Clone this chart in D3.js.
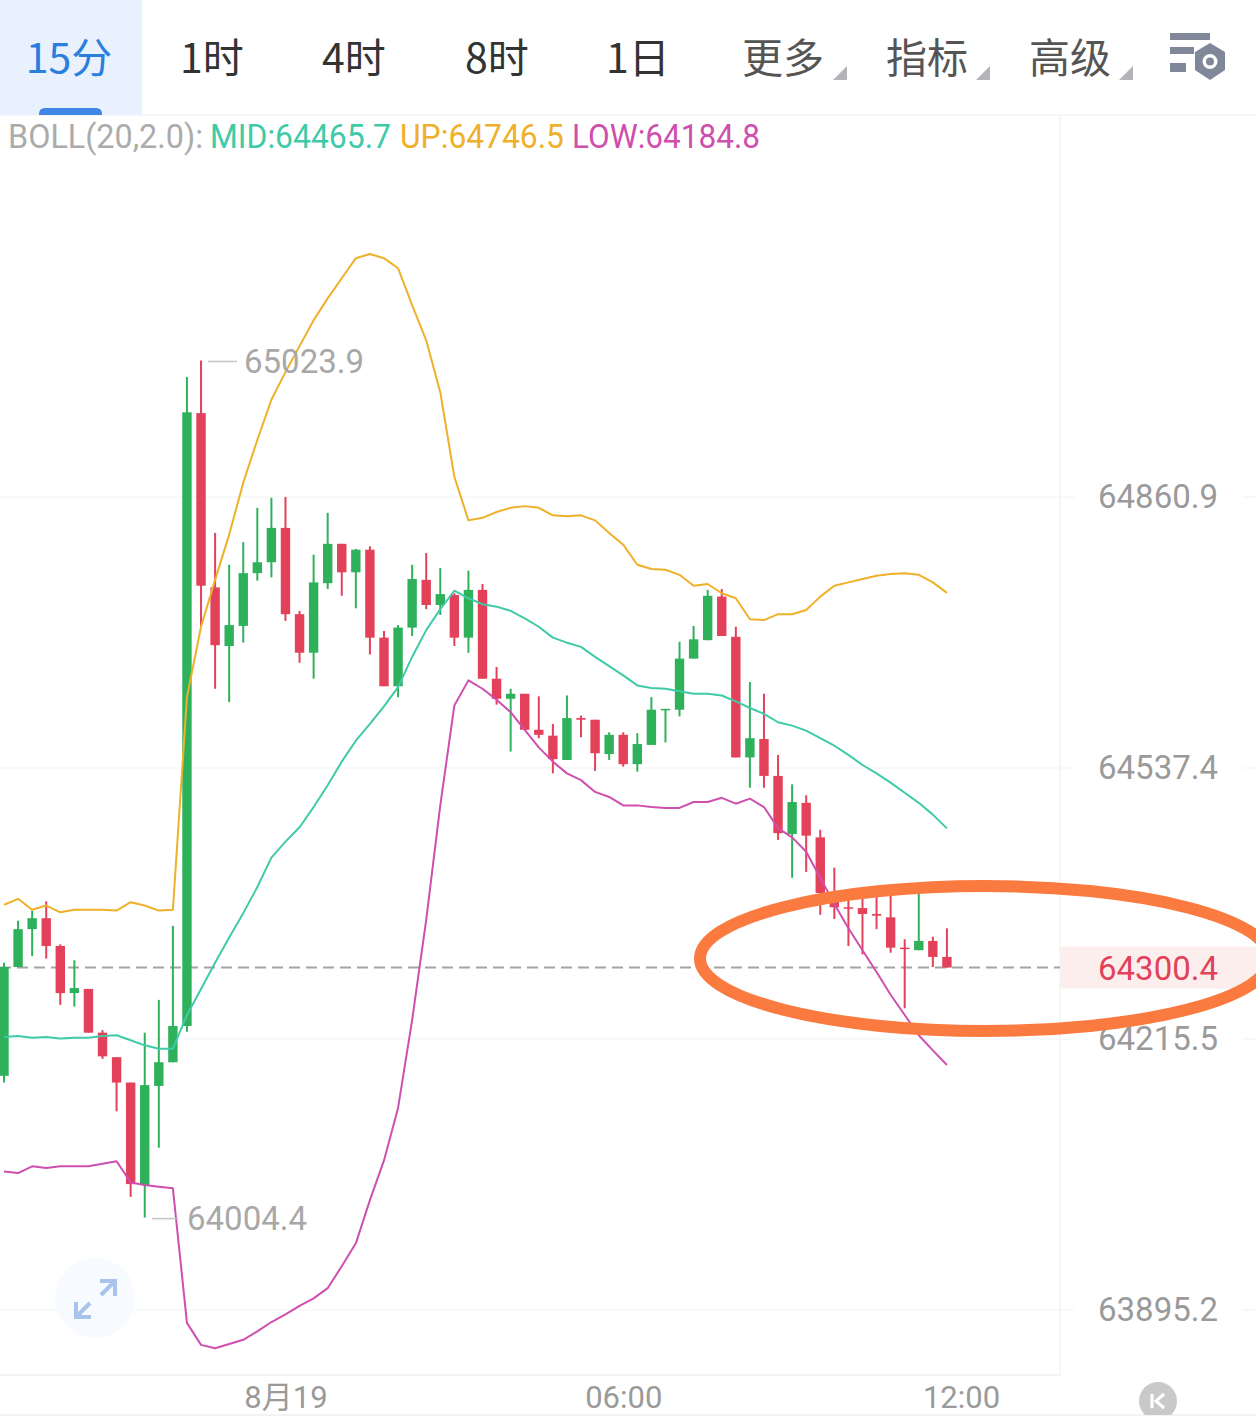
<!DOCTYPE html>
<html><head><meta charset="utf-8">
<script src="https://cdn.jsdelivr.net/npm/d3@7"></script>
<style>html,body{margin:0;padding:0;background:#fff}svg{display:block}text{font-family:Roboto,"Noto Sans CJK SC",sans-serif}</style>
</head><body><div id="chart"></div>
<script>
const open=[64172,64301,64346,64359,64326,64270,64275,64223,64194,64164,64043,64160,64188,64231,64961,64753,64683,64707,64770,64783,64824,64721,64675,64758,64805,64771,64798,64693,64635,64705,64762,64732,64744,64693,64750,64644,64620,64626,64583,64576,64547,64597,64595,64554,64577,64542,64565,64607,64607,64668,64690,64742,64694,64550,64572,64528,64459,64496,64455,64389,64372,64371,64364,64360,64324,64321,64332,64313];
const close=[64301,64346,64359,64326,64270,64276,64223,64195,64164,64044,64161,64188,64231,64962,64755,64684,64708,64770,64783,64824,64721,64675,64759,64805,64771,64798,64693,64635,64705,64763,64732,64745,64693,64750,64644,64620,64626,64583,64577,64548,64597,64595,64555,64577,64542,64566,64607,64608,64668,64691,64743,64695,64550,64573,64528,64460,64497,64457,64389,64372,64371,64364,64362,64324,64323,64332,64313,64300.4];
const high=[64306,64356,64368,64379,64328,64309,64275,64226,64194,64164,64223,64262,64350,65004,65023.9,64818,64780,64807,64848,64860,64861,64725,64792,64842,64805,64799,64802,64701,64708,64780,64794,64776,64746,64773,64757,64658,64632,64626,64623,64590,64624,64600,64595,64580,64580,64579,64622,64608,64688,64707,64750,64751,64706,64640,64626,64553,64518,64505,64464,64419,64393,64384,64384,64386,64334,64389,64337,64347];
const low=[64164,64301,64314,64311,64256,64254,64223,64192,64130,64029,64004.4,64087,64188,64224,64707,64632,64616,64687,64761,64765,64713,64663,64644,64751,64743,64728,64673,64635,64622,64695,64727,64720,64683,64675,64644,64613,64557,64583,64573,64531,64547,64574,64534,64547,64539,64533,64565,64568,64599,64668,64690,64695,64550,64514,64514,64452,64407,64414,64363,64358,64326,64316,64346,64318,64252,64321,64301,64300.4];
const bollMid=[64218,64219,64217,64218,64216,64217,64217,64219,64220,64214,64208,64204,64204,64244,64275,64306,64336,64365,64396,64431,64450,64467,64491,64517,64545,64570,64590,64611,64634,64670,64702,64727,64749,64740,64733,64730,64725,64716,64706,64693,64687,64682,64670,64659,64648,64636,64633,64632,64629,64626,64626,64624,64617,64609,64602,64592,64588,64582,64573,64564,64553,64541,64531,64520,64508,64496,64482,64465.7];
const bollUp=[64375,64382,64369,64374,64366,64369,64369,64369,64368,64378,64374,64368,64369,64622,64706,64762,64816,64878,64929,64977,65010,65041,65072,65098,65122,65146,65151,65146,65134,65090,65048,64986,64885,64833,64836,64843,64848,64850,64848,64839,64838,64839,64833,64818,64804,64780,64775,64774,64768,64755,64757,64746,64740,64715,64714,64721,64721,64726,64742,64755,64759,64763,64767,64769,64770,64768,64759,64746.5];
const bollLow=[64059,64057,64065,64063,64065,64065,64065,64068,64071,64046,64043,64041,64039,63880,63854,63850,63855,63860,63870,63881,63890,63900,63909,63921,63947,63974,64025,64072,64134,64238,64357,64493,64612,64642,64632,64619,64604,64583,64562,64545,64531,64523,64509,64503,64493,64493,64491,64490,64490,64497,64497,64502,64495,64501,64491,64466,64455,64438,64407,64376,64347,64321,64295,64268,64244,64220,64202,64184.8];
const priceTicks=[64860.9,64537.4,64215.5,63895.2];
const lastPrice=64300.4, maxPrice=65023.9, minPrice=64004.4;
const timeTickIdx=[20,44,68];
const timeTickLabels=["8月19","06:00","12:00"];
const tabLabels=["15分","1时","4时","8时","1日","更多","指标","高级"];
const legendLabels=["BOLL(20,2.0):","MID:64465.7","UP:64746.5","LOW:64184.8"];

const W=1256,H=1427;
const RED="#e3415a",GREEN="#2fb15c",CMID="#3fcaa8",CUP="#efb02a",CLOW="#cf4fae",GRID="#f2f3f5";
const svg=d3.select("#chart").append("svg").attr("width",W).attr("height",H).attr("viewBox",`0 0 ${W} ${H}`);
const x=d3.scaleLinear().domain([0,68]).range([4,961]);
const y=d3.scaleLinear().domain([63895.2,64215.5,64537.4,64860.9]).range([1310,1039,768,497]);
const plotR=1060,plotT=115,plotB=1375;
const defs=svg.append("defs");
defs.append("clipPath").attr("id","plot").append("rect").attr("x",0).attr("y",plotT).attr("width",plotR).attr("height",plotB-plotT);
defs.append("clipPath").attr("id","kclip").append("rect").attr("x",1130).attr("y",1375).attr("width",60).attr("height",40);

// frame + grid
svg.append("g").selectAll("line").data(priceTicks).join("line")
  .attr("x1",0).attr("x2",1075).attr("y1",d=>y(d)).attr("y2",d=>y(d)).attr("stroke",GRID).attr("stroke-width",1.2);
svg.append("g").selectAll("line").data(priceTicks).join("line")
  .attr("x1",1243).attr("x2",W).attr("y1",d=>y(d)).attr("y2",d=>y(d)).attr("stroke",GRID).attr("stroke-width",1.2);
svg.append("rect").attr("x",plotR).attr("y",y(lastPrice)-21).attr("width",W-plotR).attr("height",42).attr("fill","#fdeeee");
svg.append("line").attr("x1",plotR).attr("x2",plotR).attr("y1",plotT).attr("y2",plotB).attr("stroke",GRID).attr("stroke-width",1.5);
svg.append("line").attr("x1",0).attr("x2",W).attr("y1",plotT).attr("y2",plotT).attr("stroke",GRID).attr("stroke-width",1.5);
svg.append("line").attr("x1",0).attr("x2",plotR).attr("y1",plotB).attr("y2",plotB).attr("stroke",GRID).attr("stroke-width",2);
svg.append("line").attr("x1",0).attr("x2",W).attr("y1",1415).attr("y2",1415).attr("stroke",GRID).attr("stroke-width",2);

// expand button
const ex=svg.append("g");
ex.append("circle").attr("cx",95).attr("cy",1298).attr("r",40).attr("fill","#f7fafe");
ex.append("path").attr("d","M100 1281H115V1296M115 1281L101 1295M76 1302V1317H91M76 1317L90 1303").attr("fill","none").attr("stroke","#a8c3ec").attr("stroke-width",4);

// last-price dashed line
svg.append("line").attr("x1",0).attr("x2",plotR).attr("y1",y(lastPrice)).attr("y2",y(lastPrice))
  .attr("stroke","#a4a4a4").attr("stroke-width",2).attr("stroke-dasharray","11 6");

// candles
const idx=d3.range(open.length);
const plot=svg.append("g").attr("clip-path","url(#plot)");
const col=i=>close[i]>=open[i]?GREEN:RED;
plot.append("g").selectAll("line").data(idx).join("line")
  .attr("x1",x).attr("x2",x).attr("y1",i=>y(high[i])).attr("y2",i=>y(low[i]))
  .attr("stroke",col).attr("stroke-width",2);
plot.append("g").selectAll("rect").data(idx).join("rect")
  .attr("x",i=>x(i)-4.7).attr("width",9.4)
  .attr("y",i=>Math.min(y(open[i]),y(close[i])))
  .attr("height",i=>Math.max(1.5,Math.abs(y(open[i])-y(close[i]))))
  .attr("fill",col);

// bands
const line=d3.line().x((d,i)=>x(i)).y(d=>y(d));
[[bollUp,CUP],[bollMid,CMID],[bollLow,CLOW]].forEach(([s,c])=>{
  plot.append("path").attr("d",line(s)).attr("fill","none").attr("stroke",c).attr("stroke-width",2).attr("stroke-linejoin","round");
});

// hi/lo annotations
const note=(v,x1,x2,tx)=>{
  svg.append("line").attr("x1",x1).attr("x2",x2).attr("y1",y(v)+1).attr("y2",y(v)+1).attr("stroke","#c4c4c4").attr("stroke-width",1.5);
  svg.append("text").attr("x",tx).attr("y",y(v)+1).attr("dy","0.36em").attr("font-size",33).attr("fill","#a8a8a8").text(v.toFixed(1));
};
note(maxPrice,208,237,244);
note(minPrice,152,178,187);

// axes
const yAxis=d3.axisRight(y).tickValues(priceTicks).tickSize(0).tickPadding(0).tickFormat(d3.format(".1f"));
const gy=svg.append("g").attr("transform","translate(1158,0)").call(yAxis);
gy.select(".domain").remove();
gy.selectAll("text").attr("text-anchor","middle").attr("x",0).attr("font-size",33).attr("fill","#9a9a9a");
svg.append("text").attr("x",1158).attr("y",y(lastPrice)+1).attr("dy","0.36em").attr("text-anchor","middle").attr("font-size",33).attr("fill",RED).text(lastPrice.toFixed(1));

const xAxis=d3.axisBottom(x).tickValues(timeTickIdx).tickSize(0).tickPadding(0).tickFormat((d,i)=>timeTickLabels[i]);
const gx=svg.append("g").attr("transform","translate(0,1386)").call(xAxis);
gx.select(".domain").remove();
gx.selectAll("text").attr("font-size",31).attr("fill","#9a9a9a");

// K button
const kb=svg.append("g").attr("clip-path","url(#kclip)");
kb.append("circle").attr("cx",1158).attr("cy",1401).attr("r",19).attr("fill","#c9c9c9");
kb.append("path").attr("d","M1152 1394V1408M1164 1394L1156 1401L1164 1408").attr("fill","none").attr("stroke","#fff").attr("stroke-width",3);

// tabs
svg.append("rect").attr("x",0).attr("y",0).attr("width",142).attr("height",115).attr("fill","#e8f1fd");
svg.append("path").attr("d","M39 115V114Q39 108 45 108H96Q102 108 102 114V115Z").attr("fill","#3f86e6");
const tabX=[69,212,354,497,638,783,927,1070];
const tabCol=["#2a7fdc","#333","#333","#333","#333","#555","#555","#555"];
svg.append("g").selectAll("text").data(tabLabels).join("text")
  .attr("x",(d,i)=>tabX[i]).attr("y",58).attr("dy","0.36em").attr("text-anchor","middle")
  .attr("font-size",41).attr("fill",(d,i)=>tabCol[i])
  .style("font-family",'"Noto Sans CJK SC",sans-serif').text(d=>d);
[847,990,1133].forEach(r=>svg.append("path").attr("d",`M${r} 66V80H${r-14}Z`).attr("fill","#b2b4b8"));

// settings icon
const ic=svg.append("g").attr("fill","#7f8798");
ic.append("rect").attr("x",1170).attr("y",33).attr("width",40).attr("height",7);
ic.append("rect").attr("x",1170).attr("y",47).attr("width",24).attr("height",7);
ic.append("rect").attr("x",1170).attr("y",63).attr("width",16).attr("height",9);
ic.append("path").attr("d","M1210 43L1225 52V70L1210 80L1195 70V52Z M1210 54A7.5 7.5 0 1 0 1210 69A7.5 7.5 0 1 0 1210 54Z").attr("fill-rule","evenodd");
ic.append("circle").attr("cx",1210).attr("cy",61.5).attr("r",4);

// legend
const legendX=[8,210,400,572], legendW=[195,181,164,188], legendC=["#ababab",CMID,CUP,CLOW];
svg.append("g").selectAll("text").data(legendLabels).join("text")
  .attr("x",(d,i)=>legendX[i]).attr("y",136).attr("dy","0.36em")
  .attr("textLength",(d,i)=>legendW[i]).attr("lengthAdjust","spacingAndGlyphs")
  .attr("font-size",33).attr("fill",(d,i)=>legendC[i]).text(d=>d);

// hand-drawn highlight
svg.append("ellipse").attr("cx",985).attr("cy",958.5).attr("rx",285).attr("ry",72.5)
  .attr("fill","none").attr("stroke","#fb7a3f").attr("stroke-width",12);
</script></body></html>
